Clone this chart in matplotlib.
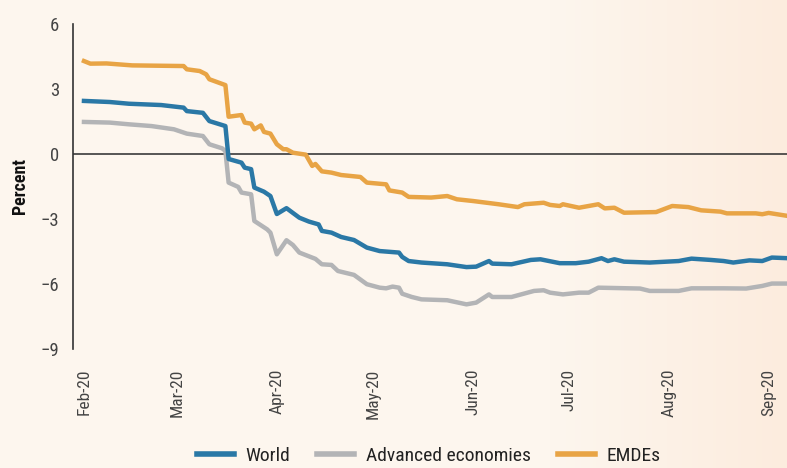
import matplotlib
matplotlib.use("Agg")
import matplotlib.pyplot as plt
import matplotlib.dates as mdates
from matplotlib import font_manager
import numpy as np
import pandas as pd

# pick a condensed face if one is around
names = {f.name for f in font_manager.fontManager.ttflist}
family = "DejaVu Sans"
for cand in ["Liberation Sans Narrow", "DejaVu Sans Condensed", "Roboto Condensed", "Open Sans Condensed"]:
    if cand in names:
        family = cand
        break
plt.rcParams['font.family'] = [family, 'DejaVu Sans']

start = pd.Timestamp("2020-02-01")

# days after 1 Feb 2020, values in percent
world_days = [0, 8, 14, 24, 31, 32, 37, 39, 44, 45, 49, 50, 52, 53, 56, 58, 60, 63, 67, 70,
              73, 74, 77, 80, 84, 88, 92, 98, 99, 101, 105, 113, 119, 122, 126, 127, 133, 139,
              142, 148, 153, 157, 161, 163, 165, 168, 176, 185, 189, 195, 199, 202, 207, 211,
              214, 219]
world = [2.45, 2.4, 2.32, 2.26, 2.14, 1.98, 1.9, 1.52, 1.29, -0.23, -0.4, -0.63, -0.7, -1.55,
         -1.74, -1.94, -2.77, -2.5, -2.94, -3.12, -3.25, -3.55, -3.63, -3.83, -3.97, -4.32,
         -4.48, -4.55, -4.75, -4.94, -5.01, -5.09, -5.22, -5.2, -4.94, -5.06, -5.09, -4.89,
         -4.86, -5.04, -5.04, -4.97, -4.81, -4.94, -4.86, -4.97, -5.01, -4.94, -4.83, -4.89,
         -4.94, -5.01, -4.91, -4.94, -4.78, -4.81]

adv_days = [0, 8, 14, 21, 28, 32, 37, 39, 43, 44, 45, 48, 49, 52, 53, 57, 58, 60, 63, 65, 67,
            72, 74, 77, 79, 84, 88, 92, 94, 96, 98, 99, 102, 105, 113, 119, 122, 126, 127, 133,
            140, 143, 145, 149, 154, 157, 160, 173, 176, 185, 189, 199, 206, 211, 214, 219]
advanced = [1.48, 1.45, 1.37, 1.29, 1.14, 0.94, 0.83, 0.45, 0.26, 0.14, -1.32, -1.52, -1.78,
            -1.86, -3.09, -3.48, -3.63, -4.63, -3.98, -4.2, -4.55, -4.84, -5.09, -5.12, -5.4,
            -5.58, -6.01, -6.17, -6.2, -6.12, -6.17, -6.45, -6.6, -6.71, -6.75, -6.94, -6.86,
            -6.48, -6.6, -6.6, -6.32, -6.29, -6.4, -6.48, -6.4, -6.4, -6.17, -6.21, -6.32,
            -6.32, -6.2, -6.2, -6.21, -6.09, -5.98, -5.98]

emde_days = [0, 2, 7, 15, 31, 32, 36, 38, 39, 44, 45, 49, 50, 52, 53, 55, 56, 58, 60, 62, 63,
             65, 69, 71, 72, 74, 77, 80, 86, 88, 94, 95, 99, 101, 108, 113, 116, 121, 129, 135,
             137, 143, 145, 148, 149, 154, 160, 162, 165, 168, 178, 183, 188, 192, 198, 200,
             209, 211, 213, 219]
emdes = [4.29, 4.17, 4.18, 4.09, 4.06, 3.91, 3.83, 3.68, 3.45, 3.18, 1.72, 1.8, 1.45, 1.4,
         1.14, 1.32, 1.02, 0.94, 0.45, 0.22, 0.22, 0.06, -0.03, -0.55, -0.46, -0.8, -0.86,
         -0.97, -1.06, -1.32, -1.4, -1.68, -1.78, -1.98, -2.01, -1.94, -2.09, -2.17, -2.32,
         -2.45, -2.32, -2.25, -2.35, -2.4, -2.32, -2.48, -2.32, -2.51, -2.48, -2.71, -2.68,
         -2.4, -2.45, -2.6, -2.66, -2.74, -2.74, -2.78, -2.72, -2.86]

yticks = [-9, -6, -3, 0, 3, 6]


def to_dates(days):
    return start + pd.to_timedelta(days, unit="D")


bg = "#FDF6EE"
fig = plt.figure(figsize=(7.87, 4.68), dpi=100, facecolor=bg)

# faint peach tint toward the right edge
grad_ax = fig.add_axes([0, 0, 1, 1], zorder=-10)
g = np.clip((np.linspace(0, 1, 256) - 0.7) / 0.3, 0, 1)
c0 = np.array([0xFD, 0xF6, 0xEE]) / 255
c1 = np.array([0xFC, 0xEC, 0xDE]) / 255
img = c0[None, None, :] * (1 - g)[None, :, None] + c1[None, None, :] * g[None, :, None]
grad_ax.imshow(img, aspect="auto", extent=[0, 1, 0, 1])
grad_ax.axis("off")

ax = fig.add_axes([0.0928, 0.2543, 0.9072, 0.6944])
ax.patch.set_alpha(0)

ax.axhline(0, color="#3a3a3a", lw=1.2, zorder=1)
ax.plot(to_dates(world_days), world, color="#2A78A6", lw=3.2, label="World", zorder=4)
ax.plot(to_dates(adv_days), advanced, color="#B3B4B6", lw=3.2, label="Advanced economies", zorder=3)
ax.plot(to_dates(emde_days), emdes, color="#E8A445", lw=3.2, label="EMDEs", zorder=2)

ax.set_ylim(-9, 6)
ax.set_yticks(yticks)
ax.set_xlim(start - pd.Timedelta(days=3.4), start + pd.Timedelta(days=218.7))
ax.xaxis.set_major_locator(mdates.MonthLocator())
ax.xaxis.set_major_formatter(mdates.DateFormatter("%b-%y"))

for s in ["top", "right", "bottom"]:
    ax.spines[s].set_visible(False)
ax.spines["left"].set_color("#333333")
ax.spines["left"].set_linewidth(1.2)

ax.tick_params(axis="y", length=0, pad=10, labelsize=13.5, labelcolor="#444444")
ax.tick_params(axis="x", length=0, pad=14, labelsize=12.5, labelcolor="#444444", labelrotation=90)

ax.set_ylabel("Percent", fontsize=13, fontweight="bold", color="#111111", labelpad=8)

fig.legend(loc="center", bbox_to_anchor=(0.545, 0.026), ncol=3, frameon=False,
           fontsize=14, handlelength=1.9, handletextpad=0.6, columnspacing=1.4,
           labelcolor="#222222")
for h in fig.legends[0].get_lines():
    h.set_linewidth(4)

fig.savefig("out.png", dpi=100, facecolor=bg)
